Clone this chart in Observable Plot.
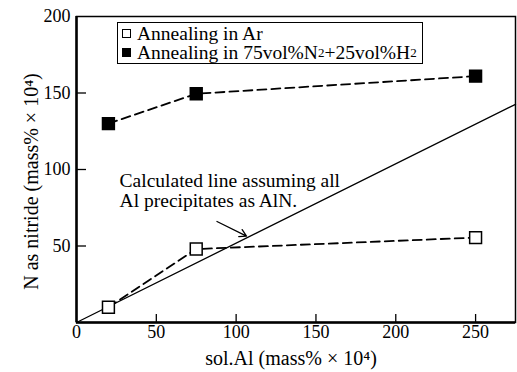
<!DOCTYPE html>
<html><head><meta charset="utf-8">
<script src="https://cdn.jsdelivr.net/npm/d3@7"></script>
<script src="https://cdn.jsdelivr.net/npm/@observablehq/plot@0.6"></script>
<style>
body{margin:0;background:#fff;}
#wrap{position:relative;width:517px;height:372px;font-family:'Liberation Serif';color:#000;}
#legend{position:absolute;left:117px;top:22px;width:304px;height:39px;border:1.3px solid #000;background:#fff;font-family:'Liberation Serif';font-size:19.5px;line-height:19px;padding-top:1px;}
#legend .row{display:flex;align-items:center;height:19px;white-space:nowrap;}
#legend .mk{display:inline-block;width:7px;height:7px;border:1.5px solid #000;margin:0 6px 0 4px;background:#fff;}
#legend .mk.f{background:#000;}
#legend sub{font-size:13px;vertical-align:-1px;}
</style></head>
<body><div id="wrap"></div>
<script>
// data
const solAl = [20, 75, 250];
const nAr = [10, 48, 55.5];
const nN2H2 = [130, 149.5, 161];
const xTicks = [0, 50, 100, 150, 200, 250];
const yTicks = [50, 100, 150, 200];
const calcX = [0, 275];
const calcY = [0, 142.6];
const seriesNames = ["Annealing in Ar", "Annealing in 75vol%N2+25vol%H2"];
const annotationLines = ["Calculated line assuming all", "Al precipitates as AlN."];

const ar = solAl.map((x, i) => ({x, y: nAr[i]}));
const n2 = solAl.map((x, i) => ({x, y: nN2H2[i]}));
const calc = calcX.map((x, i) => ({x, y: calcY[i]}));

const W = 517, H = 372, mL = 76, mT = 16, mR = 2, mB = 50;
const FF = "Liberation Serif";

const chart = Plot.plot({
  width: W, height: H,
  marginLeft: mL, marginTop: mT, marginRight: mR, marginBottom: mB,
  style: {fontFamily: FF, fontSize: "18px", color: "#000", background: "#fff"},
  x: {domain: [0, 275]},
  y: {domain: [0, 200]},
  marks: [
    Plot.axisX(xTicks, {tickSize: 0, tickPadding: 3, fontSize: 18, fontFamily: FF, label: null}),
    Plot.axisY(yTicks, {tickSize: 0, tickPadding: 6, fontSize: 18, fontFamily: FF, label: null}),
    Plot.tickX(xTicks.filter(d => d > 0), {x: d => d, insetTop: H - mT - mB - 8, strokeWidth: 1.3}),
    Plot.tickY(yTicks.filter(d => d < 200), {y: d => d, insetRight: W - mL - mR - 10, strokeWidth: 1.3}),
    Plot.frame({strokeWidth: 1.5}),
    Plot.ruleX([0], {strokeWidth: 2.5}),
    Plot.ruleY([0], {strokeWidth: 2.5}),
    Plot.line(calc, {x: "x", y: "y", strokeWidth: 1.3}),
    Plot.line(ar, {x: "x", y: "y", strokeWidth: 1.8, strokeDasharray: "9,5"}),
    Plot.line(n2, {x: "x", y: "y", strokeWidth: 1.8, strokeDasharray: "9,5"}),
    Plot.dot(ar, {x: "x", y: "y", symbol: "square", r: 6.7, fill: "#fff", stroke: "#000", strokeWidth: 1.5}),
    Plot.dot(n2, {x: "x", y: "y", symbol: "square", r: 6.7, fill: "#000", stroke: "#000", strokeWidth: 1.5}),
    Plot.text([annotationLines.join("\n")], {x: 27, y: 86, text: d => d, textAnchor: "start", lineAnchor: "middle", lineHeight: 1.0, fontSize: 19.5, fontFamily: FF}),
    Plot.arrow([{x1: 88, y1: 66, x2: 106.5, y2: 56.5}], {x1: "x1", y1: "y1", x2: "x2", y2: "y2", strokeWidth: 1.3, headLength: 9}),
    Plot.text(["N as nitride (mass% × 10⁴)"], {frameAnchor: "left", text: d => d, rotate: -90, textAnchor: "middle", lineAnchor: "middle", dx: -45, dy: 12, fontSize: 20, fontFamily: FF}),
    Plot.text(["sol.Al (mass% × 10⁴)"], {frameAnchor: "bottom", text: d => d, textAnchor: "middle", lineAnchor: "middle", dx: -5, dy: 36, fontSize: 20, fontFamily: FF})
  ]
});
chart.setAttribute("font-family", FF);

const wrap = document.getElementById("wrap");
wrap.appendChild(chart);
const legend = document.createElement("div");
legend.id = "legend";
const fmt = s => s.replace(/([NH])2/g, "$1<sub>2</sub>");
legend.innerHTML = seriesNames.map((s, i) =>
  `<div class="row"><span class="mk${i ? " f" : ""}"></span>${fmt(s)}</div>`).join("");
wrap.appendChild(legend);
</script>
</body></html>
